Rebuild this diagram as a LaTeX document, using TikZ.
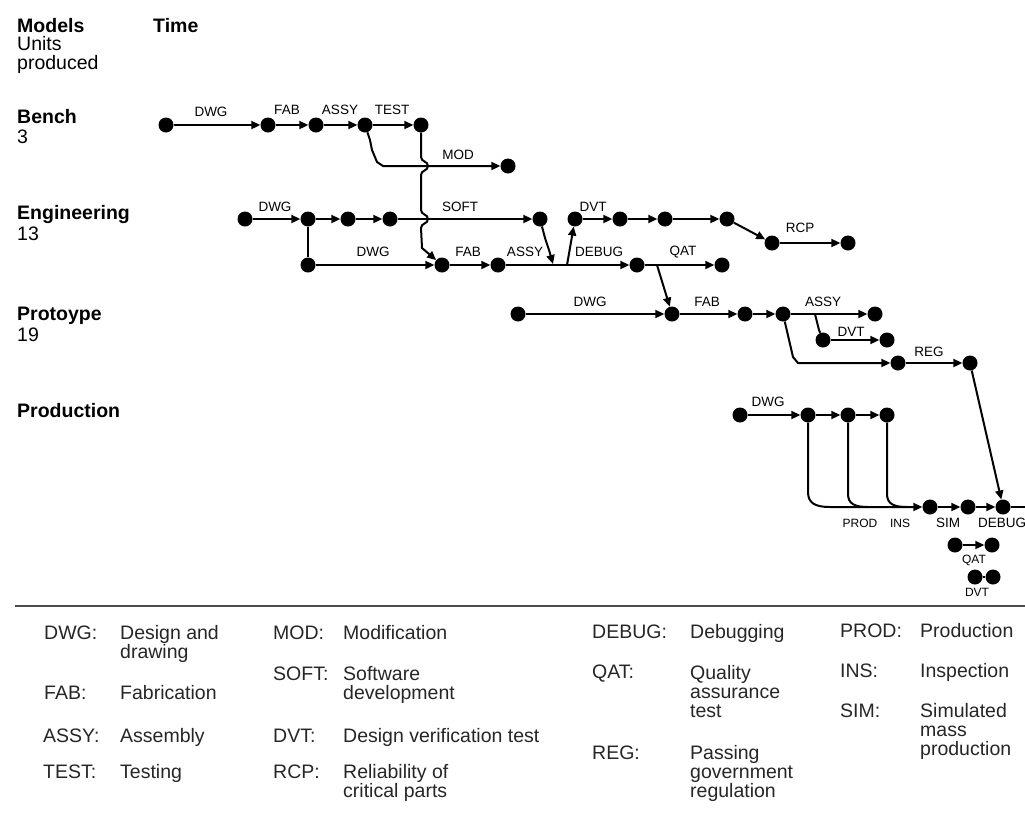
\documentclass[tikz,border=0pt]{standalone}
\usepackage{fontspec}
\setmainfont{Liberation Sans}
\usetikzlibrary{arrows.meta}
\begin{document}
\begin{tikzpicture}[x=1pt,y=-1pt,
 dot/.style={circle,fill=black,inner sep=0pt,minimum size=15pt},
 ln/.style={line width=2pt,line join=round},
 arr/.style={ln,-{Triangle[length=9pt,width=8pt]}},
 lbl/.style={font=\fontsize{13.5}{13.5}\selectfont,inner sep=0pt},
 slbl/.style={font=\fontsize{12}{12}\selectfont,inner sep=0pt},
 head/.style={font=\fontsize{19.5}{20.5}\selectfont,anchor=base west,align=left,inner sep=0pt},
 leg/.style={font=\fontsize{19.5}{19}\selectfont,anchor=base west,align=left,inner sep=0pt,text=black!85}]
\useasboundingbox (0,0) rectangle (1025,828);
\fill[white] (0,0) rectangle (1025,828);

% headings (anchor base = baseline of the last line)
\node[head,font=\fontsize{19.5}{18.5}\selectfont] (hm) at (17,69) {\textbf{Models}\\Units\\produced};
\node[head] (ht) at (153,32) {\textbf{Time}};
\node[head] (hb) at (17,143.5) {\textbf{Bench}\\3};
\node[head] (he) at (17,240) {\textbf{Engineering}\\13};
\node[head] (hp) at (17,341) {\textbf{Protoype}\\19};
\node[head] (hq) at (17,417) {\textbf{Production}};

% bench
\node[dot] (b1) at (166,125) {};
\node[dot] (b2) at (268,125) {};
\node[dot] (b3) at (316,125) {};
\node[dot] (b4) at (365,125) {};
\node[dot] (b5) at (421,125) {};
\node[dot] (bm) at (508,166) {};
\draw[arr] (b1) -- (b2);
\draw[arr] (b2) -- (b3);
\draw[arr] (b3) -- (b4);
\draw[arr] (b4) -- (b5);
\draw[arr] (b4) -- (370,140) -- (372,150) -- (377,162) -- (383,166) -- (bm);
\node[lbl] (lb1) at (211,112) {DWG};
\node[lbl] (lb2) at (287,110) {FAB};
\node[lbl] (lb3) at (340,110) {ASSY};
\node[lbl] (lb4) at (392,110) {TEST};
\node[lbl] (lb5) at (458,155) {MOD};

% engineering
\node[dot] (e1) at (245,219) {};
\node[dot] (e2) at (308,219) {};
\node[dot] (e3) at (348,219) {};
\node[dot] (e4) at (390,219) {};
\node[dot] (e5) at (540,219) {};
\node[dot] (e6) at (308,265) {};
\node[dot] (efab) at (442,265) {};
\node[dot] (eassy) at (498,265) {};
\node[dot] (edv1) at (575,219) {};
\node[dot] (edv2) at (620,219) {};
\node[dot] (edv3) at (665,219) {};
\node[dot] (edv4) at (727,219) {};
\node[dot] (ercp1) at (772,243) {};
\node[dot] (ercp2) at (848,243) {};
\node[dot] (edbg) at (637,265) {};
\node[dot] (eqat) at (722,265) {};
\coordinate (m1) at (553,264);
\coordinate (m2) at (567,265);
\coordinate (m3) at (657,265);
\draw[arr] (e1) -- (e2);
\draw[arr] (e2) -- (e3);
\draw[arr] (e3) -- (e4);
\draw[arr] (e4) -- (e5);
\draw[ln] (e2) -- (e6);
\draw[arr] (e6) -- (efab);
\draw[arr] (efab) -- (eassy);
\draw[arr] (eassy) -- (edbg);
\draw[arr] (e5) -- (545,238) -- (549,250) -- (m1);
\draw[arr] (m2) -- (edv1);
\draw[arr] (edv1) -- (edv2);
\draw[arr] (edv2) -- (edv3);
\draw[arr] (edv3) -- (edv4);
\draw[arr] (edv4) -- (ercp1);
\draw[arr] (ercp1) -- (ercp2);
\draw[arr] (edbg) -- (eqat);
% bench test -> engineering fab, jumping over crossings
\draw[arr] (b5) -- (421,157) .. controls (421,162) and (428,161) .. (428,166)
  .. controls (428,171) and (421,170) .. (421,175) -- (421,210)
  .. controls (421,215) and (428,214) .. (428,219)
  .. controls (428,224) and (421,223) .. (421,228) -- (422,248) -- (efab);
\node[lbl] (le1) at (275,207) {DWG};
\node[lbl] (le2) at (460,207) {SOFT};
\node[lbl] (le3) at (373,252) {DWG};
\node[lbl] (le4) at (468,252) {FAB};
\node[lbl] (le5) at (525,252) {ASSY};
\node[lbl] (le6) at (593,207) {DVT};
\node[lbl] (le7) at (599,252) {DEBUG};
\node[lbl] (le8) at (683,252) {QAT};
\node[lbl] (le9) at (800,228) {RCP};

% prototype
\node[dot] (p1) at (518,314) {};
\node[dot] (pfab) at (672,314) {};
\node[dot] (p3) at (745,314) {};
\node[dot] (p4) at (783,314) {};
\node[dot] (p5) at (875,314) {};
\node[dot] (pdv1) at (823,340) {};
\node[dot] (pdv2) at (887,340) {};
\node[dot] (preg1) at (898,363) {};
\node[dot] (preg2) at (970,363) {};
\coordinate (m4) at (815,314);
\draw[arr] (m3) -- (pfab);
\draw[arr] (p1) -- (pfab);
\draw[arr] (pfab) -- (p3);
\draw[arr] (p3) -- (p4);
\draw[arr] (p4) -- (p5);
\draw[ln] (m4) -- (819,330) -- (pdv1);
\draw[arr] (pdv1) -- (pdv2);
\draw[arr] (p4) -- (793,357) -- (798,363) -- (preg1);
\draw[arr] (preg1) -- (preg2);
\node[lbl] (lp1) at (590,302) {DWG};
\node[lbl] (lp2) at (707,302) {FAB};
\node[lbl] (lp3) at (823,302) {ASSY};
\node[lbl] (lp4) at (851,332) {DVT};
\node[lbl] (lp5) at (929,352) {REG};

% production
\node[dot] (q1) at (740,415) {};
\node[dot] (q2) at (808,415) {};
\node[dot] (q3) at (848,415) {};
\node[dot] (q4) at (887,415) {};
\node[dot] (q5) at (930,507) {};
\node[dot] (q6) at (968,507) {};
\node[dot] (qdbg) at (1003,507) {};
\coordinate (qend) at (1030,507);
\draw[arr] (q1) -- (q2);
\draw[arr] (q2) -- (q3);
\draw[arr] (q3) -- (q4);
\draw[arr] (q2) -- (808,492) .. controls (808,503) and (815,507) .. (830,507) -- (q5);
\draw[ln] (q3) -- (848,494) .. controls (848,504) and (855,507) .. (868,507);
\draw[ln] (q4) -- (887,494) .. controls (887,504) and (894,507) .. (907,507);
\draw[arr] (q5) -- (q6);
\draw[arr] (q6) -- (qdbg);
\draw[ln] (qdbg) -- (qend);
\draw[arr] (preg2) -- (qdbg);
\node[dot] (r1) at (955,545) {};
\node[dot] (r2) at (992,545) {};
\draw[arr] (r1) -- (r2);
\node[dot] (s1) at (975,577) {};
\node[dot] (s2) at (993,577) {};
\draw[ln] (s1) -- (s2);
\node[lbl] (lq1) at (768,402) {DWG};
\node[slbl] (lq2) at (860,523) {PROD};
\node[slbl] (lq3) at (900,523) {INS};
\node[lbl] (lq4) at (948,523) {SIM};
\node[lbl] (lq5) at (1002,523) {DEBUG};
\node[slbl] (lq6) at (974,560) {QAT};
\node[slbl] (lq7) at (977,592) {DVT};

% rule
\draw[line width=2.5pt,black!70] (15,606) -- (1025,606);

% legend (multi-line nodes: anchor base = last line)
\node[leg] (a1) at (44,639) {DWG:};
\node[leg] (d1) at (120,658) {Design and\\drawing};
\node[leg] (a2) at (44,699) {FAB:};
\node[leg] (d2) at (120,699) {Fabrication};
\node[leg] (a3) at (43,742) {ASSY:};
\node[leg] (d3) at (120,742) {Assembly};
\node[leg] (a4) at (43,778) {TEST:};
\node[leg] (d4) at (120,778) {Testing};
\node[leg] (a5) at (273,639) {MOD:};
\node[leg] (d5) at (343,639) {Modification};
\node[leg] (a6) at (273,680) {SOFT:};
\node[leg] (d6) at (343,699) {Software\\development};
\node[leg] (a7) at (273,742) {DVT:};
\node[leg] (d7) at (343,742) {Design verification test};
\node[leg] (a8) at (273,778) {RCP:};
\node[leg] (d8) at (343,797) {Reliability of\\critical parts};
\node[leg] (a9) at (592,638) {DEBUG:};
\node[leg] (d9) at (690,638) {Debugging};
\node[leg] (a10) at (592,678) {QAT:};
\node[leg] (d10) at (690,717) {Quality\\assurance\\test};
\node[leg] (a11) at (592,759) {REG:};
\node[leg] (d11) at (690,797) {Passing\\government\\regulation};
\node[leg] (a12) at (840,637) {PROD:};
\node[leg] (d12) at (920,637) {Production};
\node[leg] (a13) at (840,677) {INS:};
\node[leg] (d13) at (920,677) {Inspection};
\node[leg] (a14) at (840,717) {SIM:};
\node[leg] (d14) at (920,755) {Simulated\\mass\\production};
\end{tikzpicture}
\end{document}
